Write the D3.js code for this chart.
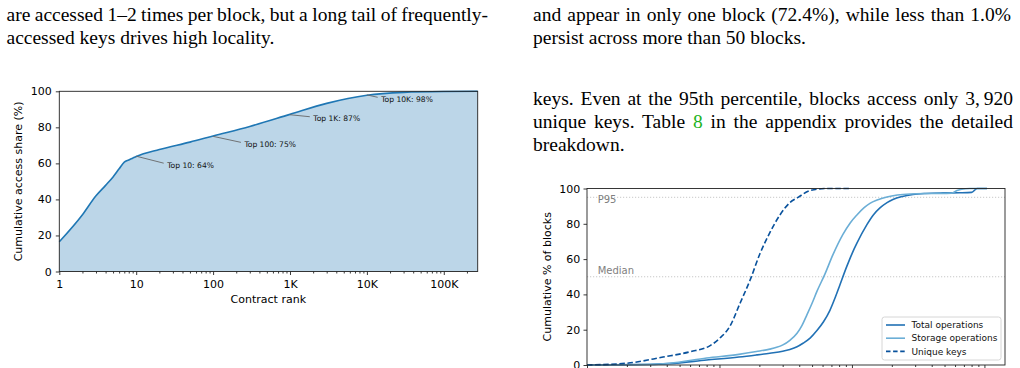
<!DOCTYPE html>
<html>
<head>
<meta charset="utf-8">
<script src="https://cdn.jsdelivr.net/npm/d3@7"></script>
<style>
  body { margin: 0; background: #fff; }
  svg { display: block; }
</style>
</head>
<body>
<div class="page"></div>
<script>
// ---- Data ----
// Left figure: cumulative access share (%) by contract rank
var rankValues = [1, 2, 3, 4, 5, 6, 7, 8, 9, 10, 20, 50, 100, 300, 1000, 3000, 10000, 30000, 100000, 276000];
var shareValues = [16.5, 31.5, 42, 47.8, 52.5, 57, 60.7, 61.9, 62.9, 63.8, 67.7, 71.8, 75.2, 80.5, 87.2, 93.3, 97.8, 99.4, 99.9, 100];
var rankTicks = [1, 10, 100, 1000, 10000, 100000];
var rankTickLabels = ["1", "10", "100", "1K", "10K", "100K"];
var shareTicks = [0, 20, 40, 60, 80, 100];
var topRanks = [10, 100, 1000, 10000];
var topShares = [64, 75, 87, 98];
var topLabels = ["Top 10: 64%", "Top 100: 75%", "Top 1K: 87%", "Top 10K: 98%"];

// Right figure: CDF of per-block counts (log x)
var totalOpsX = [100, 300, 420, 800, 1400, 1900, 2400, 3000, 3400, 3850, 4270, 4830, 5440, 6100, 6820, 7500, 8120, 9160, 10000, 10900, 12970, 14500, 16270, 18400, 20380, 24000, 28850, 36000, 48600, 65000, 80000, 88000, 104500];
var totalOpsPct = [0, 0.3, 0.8, 2.8, 4.5, 5.7, 6.7, 7.8, 8.8, 10.3, 12.3, 15.2, 19.5, 24.5, 31, 38.5, 45.5, 56, 63, 69, 79.5, 85, 89, 92, 93.8, 95.5, 96.6, 97.2, 97.5, 97.6, 97.8, 100, 100];
var storageOpsX = [100, 300, 420, 800, 1400, 1900, 2400, 2700, 3010, 3400, 3850, 4200, 4570, 5000, 5440, 6250, 7190, 8550, 9700, 10900, 12300, 13670, 15500, 18360, 22000, 27400, 40000, 56500, 62000, 67300, 77800, 104500];
var storageOpsPct = [0, 0.4, 1, 4, 6, 7.6, 9, 10, 11.4, 14, 18, 22.5, 28.4, 35, 41.7, 51.5, 62.5, 74, 80.5, 85, 89, 91.6, 93.5, 95.2, 96.3, 96.9, 97.2, 97.4, 98.8, 99.6, 100, 100];
var uniqueKeysX = [100, 200, 375, 600, 850, 1000, 1200, 1430, 1700, 2020, 2400, 2860, 3400, 3920, 4820, 6470, 9660];
var uniqueKeysPct = [0, 1, 4.5, 7.5, 11, 15, 22, 35, 48, 63, 75, 85, 92, 95, 98.8, 100, 100];
var seriesNames = ["Total operations", "Storage operations", "Unique keys"];
var pctTicks = [0, 20, 40, 60, 80, 100];
var logTicks = [100, 1000, 10000, 100000];
var refValues = [95, 50];
var refLabels = ["P95", "Median"];

// Body text (column lines); {8} marks the green reference
var leftTopLines = ["are accessed 1\u20132 times per block, but a long tail of frequently-",
  "accessed keys drives high locality."];
var rightTopLines = ["and appear in only one block (72.4%), while less than 1.0%",
  "persist across more than 50 blocks."];
var rightParaLines = ["keys. Even at the 95th percentile, blocks access only 3,\u2009920",
  "unique keys. Table {8} in the appendix provides the detailed",
  "breakdown."];

// ---- Page ----
var svg = d3.select(".page")
  .append("svg")
  .attr("width", 1020)
  .attr("height", 368);

var serif = "Liberation Serif, Times New Roman, serif";
var sans = "DejaVu Sans, sans-serif";

function writeLines(lines, x, y0, width, lead) {
  lines.forEach(function(str, i) {
    var t = svg.append("text")
      .attr("x", x)
      .attr("y", y0 + i * lead)
      .attr("font-family", serif)
      .attr("font-size", 19.5)
      .attr("fill", "#000");
    str.split(/(\{[^}]*\})/).forEach(function(part) {
      if (!part) return;
      if (part[0] == "{") {
        t.append("tspan").attr("fill", "#1db31d").text(part.slice(1, -1));
      } else {
        t.append("tspan").text(part);
      }
    });
    // justify all but the last line of a paragraph
    if (i < lines.length - 1) {
      var natural = t.node().getComputedTextLength();
      var spaces = str.split(" ").length - 1;
      t.attr("word-spacing", (width - natural) / spaces);
    }
  });
}

writeLines(leftTopLines, 6.5, 20.5, 481.5, 23.2);
writeLines(rightTopLines, 533, 20.5, 478, 23.2);
writeLines(rightParaLines, 533, 104.5, 480, 23.2);

// ---- Left chart ----
var leftX = d3.scaleLog().domain([1, 276000]).range([59.3, 477.7]);
var leftY = d3.scaleLinear().domain([0, 100]).range([271.5, 91.3]);

var leftPoints = rankValues.map(function(r, i) { return [r, shareValues[i]]; });

var left = svg.append("g");

left.append("path")
  .datum(leftPoints)
  .attr("fill", "#bcd6e8")
  .attr("d", d3.area()
    .x(d => leftX(d[0]))
    .y0(leftY(0))
    .y1(d => leftY(d[1]))
    .curve(d3.curveMonotoneX));

left.append("path")
  .datum(leftPoints)
  .attr("fill", "none")
  .attr("stroke", "#1f77b4")
  .attr("stroke-width", 1.6)
  .attr("d", d3.line()
    .x(d => leftX(d[0]))
    .y(d => leftY(d[1]))
    .curve(d3.curveMonotoneX));

// annotations (text offset from the point, in px)
var annotOffsets = [[31, 9], [31.3, 8], [23.3, 4], [14.3, 4.4]];
topRanks.forEach(function(r, i) {
  var px = leftX(r), py = leftY(topShares[i]);
  var tx = px + annotOffsets[i][0], ty = py + annotOffsets[i][1];
  left.append("line")
    .attr("x1", px).attr("y1", py)
    .attr("x2", tx - 3.5).attr("y2", ty - 2)
    .attr("stroke", "#666")
    .attr("stroke-width", 0.9);
  left.append("text")
    .attr("x", tx).attr("y", ty)
    .attr("dy", "0.35em")
    .attr("font-family", sans)
    .attr("font-size", 7.6)
    .attr("fill", "#111")
    .text(topLabels[i]);
});

function minorLogTicks(scale) {
  var d = scale.domain(), out = [];
  for (var e = Math.floor(Math.log10(d[0])); e <= Math.ceil(Math.log10(d[1])); e++) {
    for (var k = 2; k <= 9; k++) {
      var v = k * Math.pow(10, e);
      if (v >= d[0] && v <= d[1]) out.push(v);
    }
  }
  return out;
}

function styleAxis(g) {
  g.select(".domain").remove();
  g.selectAll("line").attr("stroke", "#222").attr("stroke-width", 0.9);
  g.selectAll("text").attr("font-family", sans).attr("font-size", 11).attr("fill", "#000");
}

left.append("g")
  .attr("transform", `translate(0, ${leftY(0)})`)
  .call(d3.axisBottom(leftX).tickValues(minorLogTicks(leftX)).tickSize(2).tickFormat(""))
  .call(styleAxis);

left.append("g")
  .attr("transform", `translate(0, ${leftY(0)})`)
  .call(d3.axisBottom(leftX).tickValues(rankTicks).tickSize(3.5).tickPadding(5)
    .tickFormat((d, i) => rankTickLabels[i]))
  .call(styleAxis);

left.append("g")
  .attr("transform", `translate(${leftX(1)}, 0)`)
  .call(d3.axisLeft(leftY).tickValues(shareTicks).tickSize(3.5).tickPadding(4))
  .call(styleAxis);

left.append("rect")
  .attr("x", leftX.range()[0]).attr("y", leftY(100))
  .attr("width", leftX.range()[1] - leftX.range()[0])
  .attr("height", leftY(0) - leftY(100))
  .attr("fill", "none")
  .attr("stroke", "#222")
  .attr("stroke-width", 0.9);

left.append("text")
  .attr("x", 268.3).attr("y", 303)
  .attr("text-anchor", "middle")
  .attr("font-family", sans).attr("font-size", 11)
  .text("Contract rank");

left.append("text")
  .attr("transform", `translate(18.3, ${(leftY(0) + leftY(100)) / 2}) rotate(-90)`)
  .attr("dy", "0.35em")
  .attr("text-anchor", "middle")
  .attr("font-family", sans).attr("font-size", 11)
  .text("Cumulative access share (%)");

// ---- Right chart ----
var rightX = d3.scaleLog().domain([100, 143000]).range([587, 1005]);
var rightY = d3.scaleLinear().domain([0, 100]).range([365, 188.5]);

var right = svg.append("g");

// reference lines
refValues.forEach(function(v, i) {
  right.append("line")
    .attr("x1", rightX.range()[0]).attr("x2", rightX.range()[1])
    .attr("y1", rightY(v)).attr("y2", rightY(v))
    .attr("stroke", "#bbb")
    .attr("stroke-width", 0.8)
    .attr("stroke-dasharray", "1.2,1.8");
});
right.append("text")
  .attr("x", 597.7).attr("y", rightY(95) + 5.6)
  .attr("font-family", sans).attr("font-size", 10)
  .attr("fill", "#808080")
  .text(refLabels[0]);
right.append("text")
  .attr("x", 597.7).attr("y", rightY(50) - 3)
  .attr("font-family", sans).attr("font-size", 10)
  .attr("fill", "#808080")
  .text(refLabels[1]);

var series = [
  { xs: totalOpsX, ys: totalOpsPct, color: "#2171b5", dash: null },
  { xs: storageOpsX, ys: storageOpsPct, color: "#6baed6", dash: null },
  { xs: uniqueKeysX, ys: uniqueKeysPct, color: "#08519c", dash: "5.5,2.6" }
];

var cdfLine = d3.line()
  .x(d => rightX(d[0]))
  .y(d => rightY(d[1]))
  .curve(d3.curveMonotoneX);

series.forEach(function(s) {
  right.append("path")
    .datum(s.xs.map((x, i) => [x, s.ys[i]]))
    .attr("fill", "none")
    .attr("stroke", s.color)
    .attr("stroke-width", 1.6)
    .attr("stroke-dasharray", s.dash)
    .attr("d", cdfLine);
});

// x ticks only: their labels fall below the visible page
right.append("g")
  .attr("transform", `translate(0, ${rightY(0)})`)
  .call(d3.axisBottom(rightX).tickValues(minorLogTicks(rightX)).tickSize(2).tickFormat(""))
  .call(styleAxis);

right.append("g")
  .attr("transform", `translate(0, ${rightY(0)})`)
  .call(d3.axisBottom(rightX).tickValues(logTicks).tickSize(3.5).tickFormat(""))
  .call(styleAxis);

right.append("g")
  .attr("transform", `translate(${rightX.range()[0]}, 0)`)
  .call(d3.axisLeft(rightY).tickValues(pctTicks).tickSize(3.5).tickPadding(3.2))
  .call(styleAxis);

right.append("rect")
  .attr("x", rightX.range()[0]).attr("y", rightY(100))
  .attr("width", rightX.range()[1] - rightX.range()[0])
  .attr("height", rightY(0) - rightY(100))
  .attr("fill", "none")
  .attr("stroke", "#222")
  .attr("stroke-width", 0.9);

right.append("text")
  .attr("transform", `translate(546.7, ${(rightY(0) + rightY(100)) / 2}) rotate(-90)`)
  .attr("dy", "0.35em")
  .attr("text-anchor", "middle")
  .attr("font-family", sans).attr("font-size", 11)
  .text("Cumulative % of blocks");

// legend
var legend = right.append("g").attr("transform", "translate(882, 317)");
legend.append("rect")
  .attr("width", 119).attr("height", 43)
  .attr("rx", 2.5)
  .attr("fill", "#fff").attr("fill-opacity", 0.8)
  .attr("stroke", "#ccc").attr("stroke-width", 0.8);
series.forEach(function(s, i) {
  var y = 8 + i * 13.2;
  legend.append("line")
    .attr("x1", 4).attr("x2", 23)
    .attr("y1", y).attr("y2", y)
    .attr("stroke", s.color)
    .attr("stroke-width", 1.6)
    .attr("stroke-dasharray", s.dash ? "4.5,2.6" : null);
  legend.append("text")
    .attr("x", 29.5).attr("y", y)
    .attr("dy", "0.35em")
    .attr("font-family", sans).attr("font-size", 9)
    .attr("fill", "#111")
    .text(seriesNames[i]);
});
</script>
</body>
</html>
